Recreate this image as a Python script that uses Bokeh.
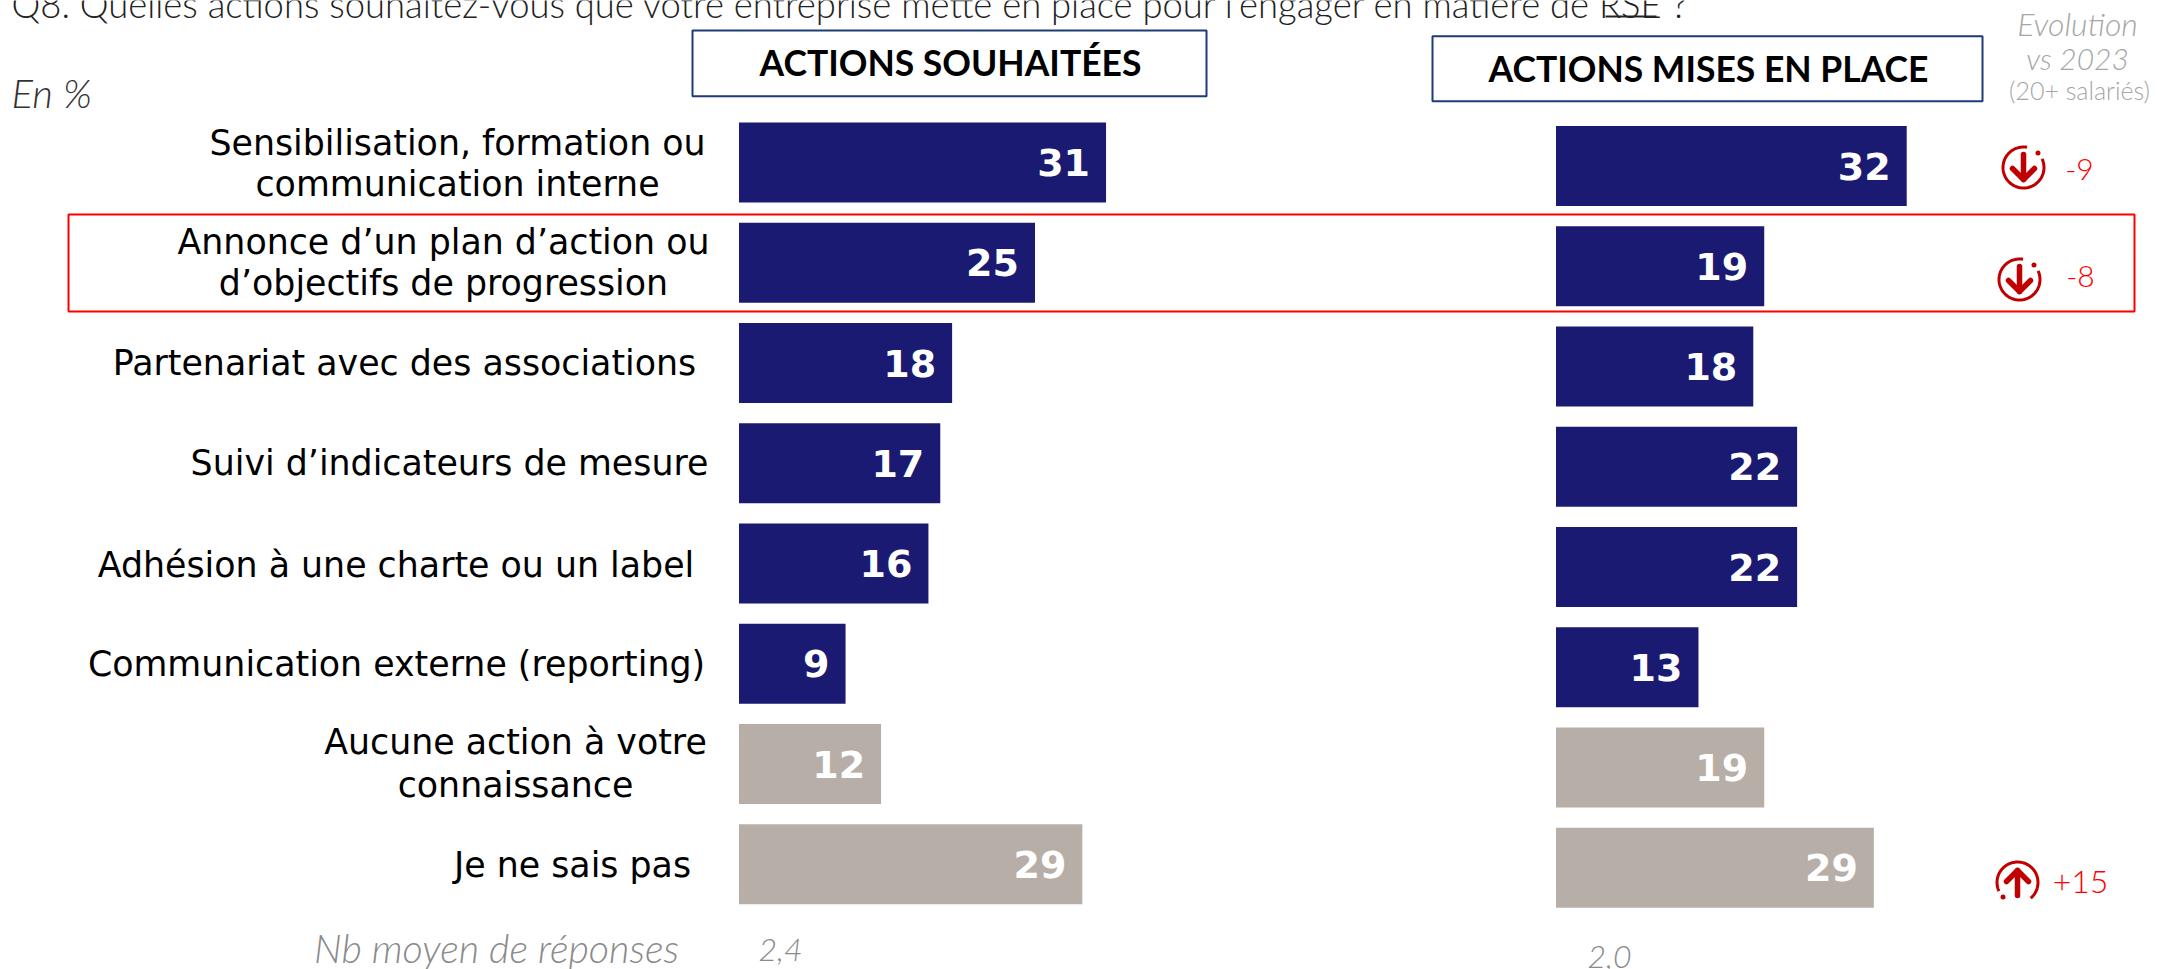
from bokeh.plotting import figure
from bokeh.models import Range1d
from bokeh.core.properties import value
from bokeh.embed import file_html
from bokeh.resources import INLINE
import numpy as np

title = "Q8. Quelles actions souhaitez-vous que votre entreprise mette en place pour l\u2019engager en mati\u00e8re de RSE ?"
categories = [
    ["Sensibilisation, formation ou", "communication interne"],
    ["Annonce d\u2019un plan d\u2019action ou", "d\u2019objectifs de progression"],
    ["Partenariat avec des associations"],
    ["Suivi d\u2019indicateurs de mesure"],
    ["Adh\u00e9sion \u00e0 une charte ou un label"],
    ["Communication externe (reporting)"],
    ["Aucune action \u00e0 votre", "connaissance"],
    ["Je ne sais pas"],
]
souhaitees = [31, 25, 18, 17, 16, 9, 12, 29]
mises_en_place = [32, 19, 18, 22, 22, 13, 19, 29]
NAVY, TAUPE = "#1a1a72", "#b8aea8"
bar_colors = [NAVY] * 6 + [TAUPE] * 2
rows = list(range(8))
evol_labels = ["-9", "-8", "+15"]
nb_moyen = ["2,4", "2,0"]

W, H = 2157, 969
p = figure(width=W, height=H, output_backend="svg", toolbar_location=None,
           x_range=Range1d(0, W), y_range=Range1d(H, 0), min_border=0,
           outline_line_color=None, background_fill_color="white")
p.axis.visible = False
p.grid.visible = False

def panel(name, x0, ppu, y0, pitch):
    p.extra_x_ranges["x" + name] = Range1d(-x0 / ppu, (W - x0) / ppu)
    p.extra_y_ranges["y" + name] = Range1d((H - y0) / pitch, -y0 / pitch)

panel("L", 738.5, 11.84, 162, 100.25)
panel("R", 1555.5, 10.96, 165.5, 100.25)

for name, vals in (("L", souhaitees), ("R", mises_en_place)):
    p.hbar(y=rows, left=0, right=vals, height=0.8, fill_color=bar_colors, line_color=None,
           x_range_name="x" + name, y_range_name="y" + name)
    p.text(x=vals, y=rows, text=[str(v) for v in vals], x_range_name="x" + name, y_range_name="y" + name,
           x_offset=-16, y_offset=0, text_align="right", text_baseline="middle", text_color="white",
           text_font=value("DejaVu Sans"), text_font_style="bold", text_font_size="38px")

def txt(x, y, s, size, color="black", font="Lato", style="normal", align="center", base="middle"):
    p.text(x=[x], y=[y], text=[s], text_font=value(font), text_font_style=style,
           text_font_size=f"{size}px", text_color=color, text_align=align, text_baseline=base)

centers = [457, 443, 404, 449, 395.5, 396, 515, 572]
ys = [[142, 183], [241, 282], [362], [462], [564], [663], [741.5, 784], [864]]
for lines, cx, yy in zip(categories, centers, ys):
    for s, y in zip(lines, yy):
        txt(cx, y, s, 34.8, font="DejaVu Sans")

for (x0, x1, y0, y1, s, cx, cy) in [(692, 1206, 30, 95.7, "ACTIONS SOUHAIT\u00c9ES", 950, 62),
                                    (1432, 1982, 35.7, 100.7, "ACTIONS MISES EN PLACE", 1708, 68)]:
    p.quad(left=x0, right=x1, top=y0, bottom=y1, fill_color="white", line_color="#1f3a7a", line_width=2)
    txt(cx, cy, s, 35.5, style="bold")

LIGHT = "Lato Light"
txt(11, 3, title, 36.4, color="#222222", font=LIGHT, align="left", base="alphabetic")
p.line(x=[1605, 1656], y=[16, 16], line_color="#222222", line_width=2)
txt(11, 92, "En %", 40, color="#333333", font=LIGHT, style="italic", align="left")
txt(2077, 23, "Evolution", 32, color="#a6a6a6", font=LIGHT, style="italic")
txt(2077, 57, "vs 2023", 30, color="#a6a6a6", font=LIGHT, style="italic")
txt(2079, 89, "(20+ salari\u00e9s)", 25, color="#a6a6a6", font=LIGHT)
txt(496, 947, "Nb moyen de r\u00e9ponses", 39.5, color="#8a8a8a", font=LIGHT, style="italic")
txt(780, 949, nb_moyen[0], 32, color="#8a8a8a", font=LIGHT, style="italic")
txt(1609, 956, nb_moyen[1], 32, color="#8a8a8a", font=LIGHT, style="italic")

p.quad(left=68, right=2134, top=214, bottom=311, fill_color=None, line_color="red", line_width=2)

RED = "#c00000"
def icon(cx, cy, up):
    r = 20.5
    th = np.radians(np.linspace(155, 410, 70)) if up else np.radians(np.linspace(-25, 280, 70))
    p.line(x=cx + r * np.cos(th), y=cy + r * np.sin(th), line_color=RED, line_width=3)
    s = 1 if up else -1
    d = np.radians(135) if up else np.radians(-45)
    p.scatter(x=[cx + r * np.cos(d)], y=[cy + r * np.sin(d)], size=5, fill_color=RED, line_color=None)
    p.line(x=[cx, cx], y=[cy + 13 * s, cy - 12 * s], line_color=RED, line_width=5.5, line_cap="round")
    p.line(x=[cx - 11, cx, cx + 11], y=[cy - 1 * s, cy - 12 * s, cy - 1 * s], line_color=RED, line_width=5.5,
           line_cap="round", line_join="round")

icon(2023, 167, False)
icon(2019, 279, False)
icon(2017, 882, True)
for s, x, y, size in zip(evol_labels, [2079, 2080, 2080], [169, 276, 881], [30, 30, 32]):
    txt(x, y, s, size, color="red", font=LIGHT)

open("out.html", "w").write(file_html(p, INLINE))
